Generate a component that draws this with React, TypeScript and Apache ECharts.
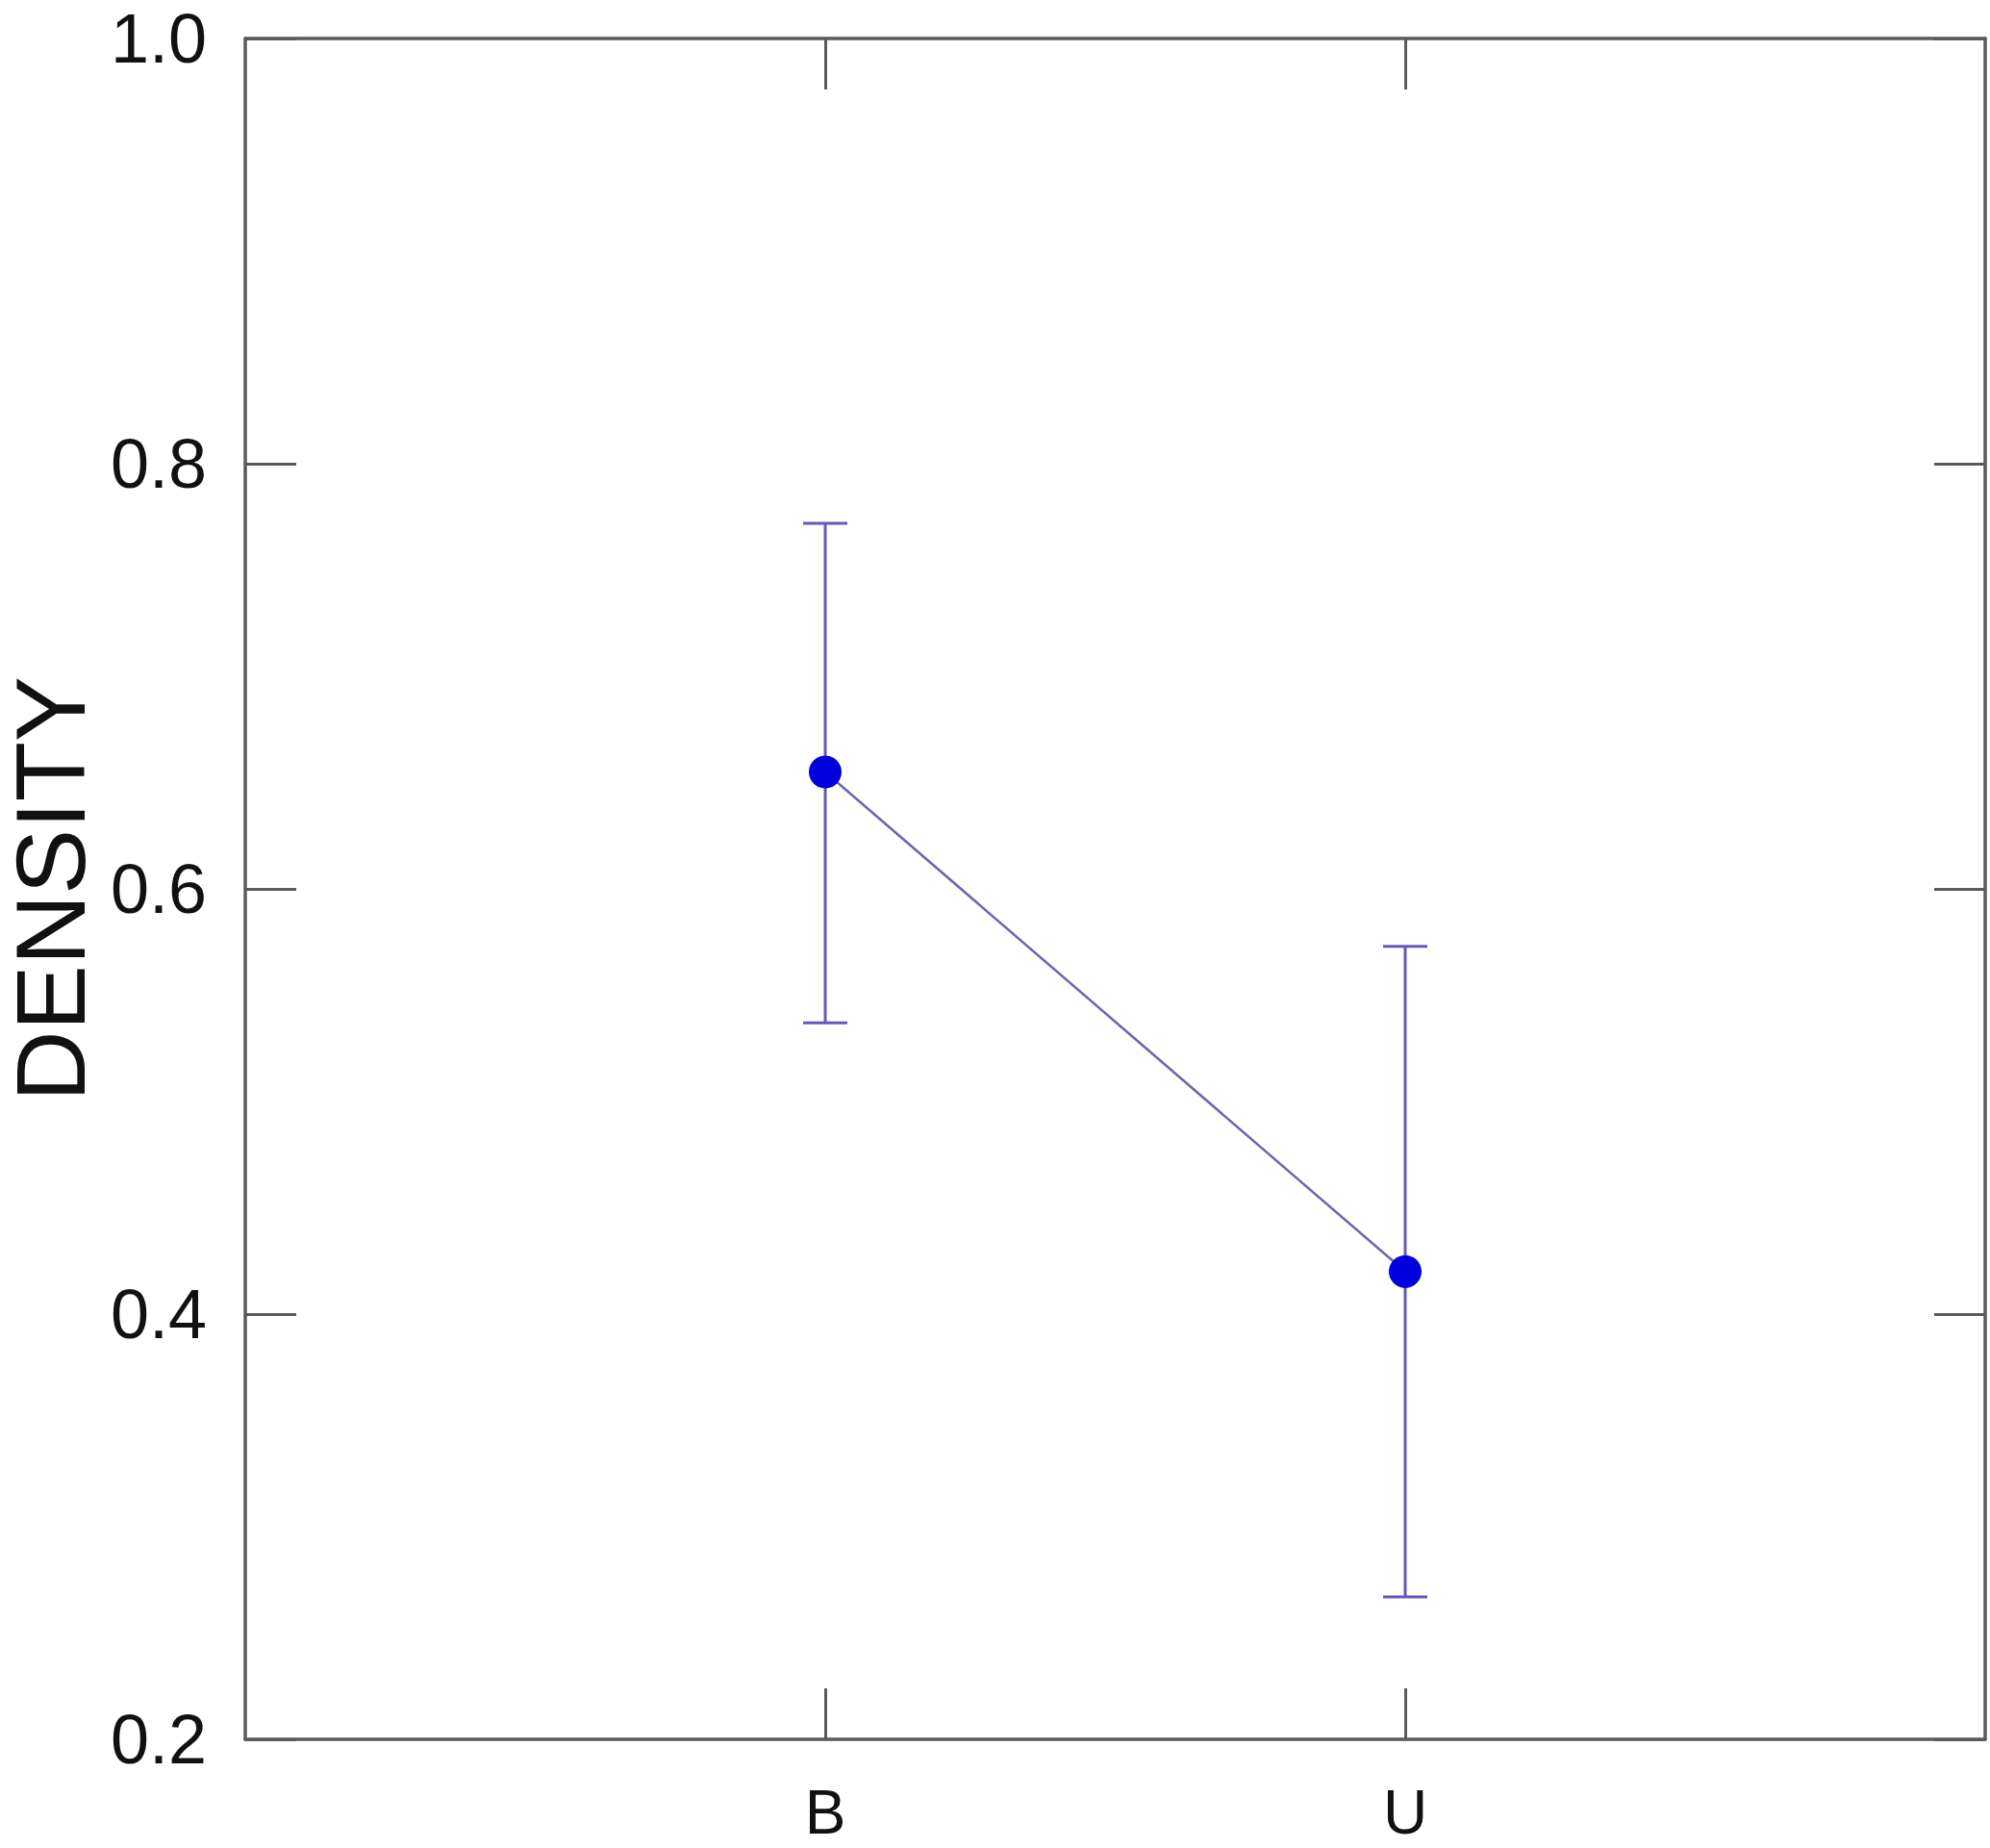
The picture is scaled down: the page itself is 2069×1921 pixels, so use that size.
import React, { useEffect, useRef } from "react";
import * as echarts from "echarts";

const categories = ["B", "U"];
const categoryPositions = [1, 2];
const means = [0.655, 0.42];
const lowerBounds = [0.537, 0.267];
const upperBounds = [0.772, 0.573];
const yTicks = [0.2, 0.4, 0.6, 0.8, 1.0];

const AXIS_COLOR = "#5a5a5a";
const ERR_COLOR = "#6459bb";
const LINE_COLOR = "#6c66ac";
const POINT_COLOR = "#0000dc";
const FONT = "'Liberation Sans', Arial, sans-serif";

export default function App() {
  const ref = useRef<HTMLDivElement>(null);

  useEffect(() => {
    if (!ref.current) return;
    const chart = echarts.init(ref.current, null, { renderer: "svg" });

    const axisLine = { show: true, onZero: false, lineStyle: { color: AXIS_COLOR, width: 3.5 } };
    const tickStyle = { color: AXIS_COLOR, width: 3 };

    const errData = categoryPositions.map((x, i) => [x, lowerBounds[i], upperBounds[i]]);
    const lineData = categoryPositions.map((x, i) => [x, means[i]]);

    chart.setOption({
      animation: false,
      backgroundColor: "#ffffff",
      grid: {
        left: 255,
        right: 5,
        top: 40,
        bottom: 113,
        containLabel: false,
        outerBoundsMode: "none",
      },
      xAxis: [
        {
          type: "value",
          min: 0,
          max: 3,
          interval: 1,
          position: "bottom",
          splitLine: { show: false },
          axisLine,
          axisTick: {
            show: true,
            inside: true,
            length: 53,
            lineStyle: tickStyle,
            customValues: categoryPositions,
          },
          axisLabel: {
            show: true,
            margin: 44,
            fontSize: 64,
            fontFamily: FONT,
            color: "#111",
            customValues: categoryPositions,
            formatter: (v: number) => {
              const idx = categoryPositions.indexOf(v);
              return idx >= 0 ? categories[idx] : "";
            },
          },
        },
        {
          type: "value",
          min: 0,
          max: 3,
          interval: 1,
          position: "top",
          splitLine: { show: false },
          axisLine,
          axisTick: {
            show: true,
            inside: true,
            length: 53,
            lineStyle: tickStyle,
            customValues: categoryPositions,
          },
          axisLabel: { show: false },
        },
      ],
      yAxis: [
        {
          type: "value",
          min: 0.2,
          max: 1.0,
          interval: 0.2,
          position: "left",
          splitLine: { show: false },
          axisLine,
          axisTick: {
            show: true,
            inside: true,
            length: 53,
            lineStyle: tickStyle,
            customValues: yTicks,
          },
          axisLabel: {
            show: true,
            margin: 40,
            fontSize: 72,
            fontFamily: FONT,
            color: "#111",
            customValues: yTicks,
            formatter: (v: number) => v.toFixed(1),
          },
          name: "DENSITY",
          nameLocation: "middle",
          nameRotate: 90,
          nameGap: 140,
          nameTextStyle: { fontSize: 102, lineHeight: 102, fontFamily: FONT, color: "#111" },
        },
        {
          type: "value",
          min: 0.2,
          max: 1.0,
          interval: 0.2,
          position: "right",
          splitLine: { show: false },
          axisLine,
          axisTick: {
            show: true,
            inside: true,
            length: 53,
            lineStyle: tickStyle,
            customValues: yTicks,
          },
          axisLabel: { show: false },
        },
      ],
      series: [
        {
          type: "custom",
          xAxisIndex: 0,
          yAxisIndex: 0,
          data: errData,
          z: 2,
          renderItem: (params: any, api: any) => {
            const x = api.value(0);
            const lo = api.coord([x, api.value(1)]);
            const hi = api.coord([x, api.value(2)]);
            const half = 23;
            const style = { stroke: ERR_COLOR, lineWidth: 3 };
            return {
              type: "group",
              children: [
                { type: "line", shape: { x1: lo[0], y1: lo[1], x2: hi[0], y2: hi[1] }, style },
                { type: "line", shape: { x1: hi[0] - half, y1: hi[1], x2: hi[0] + half, y2: hi[1] }, style },
                { type: "line", shape: { x1: lo[0] - half, y1: lo[1], x2: lo[0] + half, y2: lo[1] }, style },
              ],
            };
          },
        },
        {
          type: "line",
          xAxisIndex: 0,
          yAxisIndex: 0,
          data: lineData,
          z: 3,
          symbol: "circle",
          symbolSize: 34,
          showSymbol: true,
          lineStyle: { color: LINE_COLOR, width: 2.5 },
          itemStyle: { color: POINT_COLOR, borderWidth: 0 },
        },
      ],
    });

    return () => chart.dispose();
  }, []);

  return (
    <div
      ref={ref}
      style={{ position: "absolute", left: 0, top: 0, width: 2069, height: 1921, background: "#fff" }}
    />
  );
}
